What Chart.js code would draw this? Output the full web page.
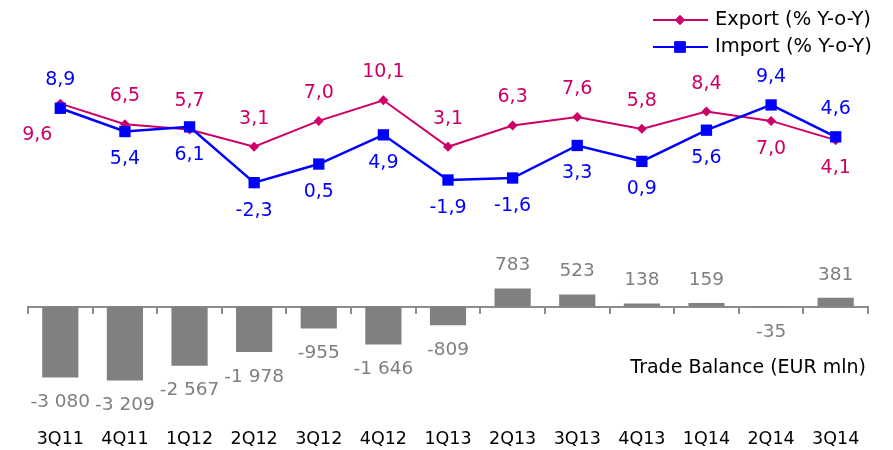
<!DOCTYPE html>
<html>
<head>
<meta charset="utf-8">
<script src="https://cdn.jsdelivr.net/npm/chart.js@4/dist/chart.umd.min.js"></script>
<style>
  html, body { margin: 0; padding: 0; background: #fff; }
</style>
</head>
<body>
<canvas id="tradeChart" width="893" height="450"></canvas>
<script>
// quarters
const quarters = ['3Q11', '4Q11', '1Q12', '2Q12', '3Q12', '4Q12', '1Q13', '2Q13', '3Q13', '4Q13', '1Q14', '2Q14', '3Q14'];
// growth, % Y-o-Y
const exportYoY = [9.6, 6.5, 5.7, 3.1, 7.0, 10.1, 3.1, 6.3, 7.6, 5.8, 8.4, 7.0, 4.1];
const importYoY = [8.9, 5.4, 6.1, -2.3, 0.5, 4.9, -1.9, -1.6, 3.3, 0.9, 5.6, 9.4, 4.6];
// trade balance, EUR mln
const tradeBalance = [-3080, -3209, -2567, -1978, -955, -1646, -809, 783, 523, 138, 159, -35, 381];

// label side for each point: a = above, b = below, bl = below left
const exportLabelSide = ['bl', 'a', 'a', 'a', 'a', 'a', 'a', 'a', 'a', 'a', 'a', 'b', 'b'];
const importLabelSide = ['a', 'b', 'b', 'b', 'b', 'b', 'b', 'b', 'b', 'b', 'b', 'a', 'a'];

const EXPORT_COLOR = '#cc0066';
const IMPORT_COLOR = '#0000ff';
const BAR_COLOR = '#808080';
const AXIS_COLOR = '#8c8c8c';
const FONT = 'DejaVu Sans';

function fmtPct(v) {
  return v.toFixed(1).replace('.', ',');
}

function fmtMln(v) {
  const s = Math.abs(v).toString().replace(/\B(?=(\d{3})+(?!\d))/g, ' ');
  return (v < 0 ? '-' : '') + s;
}

// value labels over lines and bars
const valueLabels = {
  id: 'valueLabels',
  afterDatasetsDraw(chart) {
    const ctx = chart.ctx;
    ctx.save();
    ctx.textAlign = 'center';
    ctx.textBaseline = 'middle';
    chart.data.datasets.forEach((ds, i) => {
      const meta = chart.getDatasetMeta(i);
      meta.data.forEach((el, j) => {
        const v = ds.data[j];
        if (ds.type === 'line') {
          const side = ds.labelSide[j];
          let dx = 0, dy = -28;
          if (side === 'b') dy = 28;
          if (side === 'bl') { dx = -23; dy = 31; }
          ctx.font = '19px ' + FONT;
          ctx.fillStyle = ds.borderColor;
          ctx.fillText(fmtPct(v), el.x + dx, el.y + dy);
        } else {
          ctx.font = '18.5px ' + FONT;
          ctx.fillStyle = '#7f7f7f';
          ctx.fillText(fmtMln(v), el.x, v < 0 ? el.y + 25 : el.y - 23);
        }
      });
    });
    ctx.restore();
  }
};

// legend with line + marker, and the bar caption
const sideTexts = {
  id: 'sideTexts',
  afterDraw(chart) {
    const ctx = chart.ctx;
    const area = chart.chartArea;
    ctx.save();
    ctx.font = '19.5px ' + FONT;
    ctx.textBaseline = 'middle';
    ctx.textAlign = 'left';
    const items = [
      { text: 'Export (% Y-o-Y)', color: EXPORT_COLOR, style: 'rectRot', r: 5, y: 20 },
      { text: 'Import (% Y-o-Y)', color: IMPORT_COLOR, style: 'rect', r: 8, y: 47 }
    ];
    const x0 = chart.width - 240;
    items.forEach(it => {
      ctx.strokeStyle = it.color;
      ctx.lineWidth = 2;
      ctx.beginPath();
      ctx.moveTo(x0, it.y);
      ctx.lineTo(x0 + 55, it.y);
      ctx.stroke();
      ctx.fillStyle = it.color;
      Chart.helpers.drawPoint(ctx, { pointStyle: it.style, radius: it.r, borderWidth: 0 }, x0 + 27, it.y);
      ctx.fill();
      ctx.fillStyle = '#000';
      ctx.fillText(it.text, x0 + 62, it.y);
    });
    ctx.font = '19px ' + FONT;
    ctx.textAlign = 'right';
    ctx.fillText('Trade Balance (EUR mln)', area.right - 2, 368);
    ctx.restore();
  }
};

new Chart(document.getElementById('tradeChart'), {
  type: 'bar',
  data: {
    labels: quarters,
    datasets: [
      {
        type: 'line',
        label: 'Export (% Y-o-Y)',
        data: exportYoY,
        labelSide: exportLabelSide,
        yAxisID: 'y',
        order: 2,
        borderColor: EXPORT_COLOR,
        backgroundColor: EXPORT_COLOR,
        borderWidth: 2,
        tension: 0,
        pointStyle: 'rectRot',
        pointRadius: 5,
        pointBorderWidth: 0,
        pointBackgroundColor: EXPORT_COLOR
      },
      {
        type: 'line',
        label: 'Import (% Y-o-Y)',
        data: importYoY,
        labelSide: importLabelSide,
        yAxisID: 'y',
        order: 1,
        borderColor: IMPORT_COLOR,
        backgroundColor: IMPORT_COLOR,
        borderWidth: 2.5,
        tension: 0,
        pointStyle: 'rect',
        pointRadius: 8,
        pointBorderWidth: 0,
        pointBackgroundColor: IMPORT_COLOR
      },
      {
        type: 'bar',
        label: 'Trade Balance (EUR mln)',
        data: tradeBalance,
        yAxisID: 'y2',
        order: 3,
        backgroundColor: BAR_COLOR,
        barPercentage: 0.56,
        categoryPercentage: 1
      }
    ]
  },
  options: {
    responsive: false,
    animation: false,
    layout: { padding: { left: 28, right: 25, top: 10, bottom: 0 } },
    plugins: {
      legend: { display: false },
      tooltip: { enabled: false }
    },
    scales: {
      x: {
        offset: true,
        grid: { display: false, drawTicks: false },
        border: { display: false },
        ticks: { color: '#000', padding: 0, font: { family: FONT, size: 17.5 } }
      },
      xZero: {
        type: 'category',
        position: { y2: 0 },
        offset: true,
        grid: { offset: true, drawOnChartArea: false, drawTicks: true, tickLength: 6, color: AXIS_COLOR, lineWidth: 2 },
        border: { display: true, color: AXIS_COLOR, width: 2 },
        ticks: { display: false }
      },
      y: { display: false, min: -39.4, max: 23.7 },
      y2: { display: false, min: -5317, max: 12879 }
    }
  },
  plugins: [valueLabels, sideTexts]
});
</script>
</body>
</html>
